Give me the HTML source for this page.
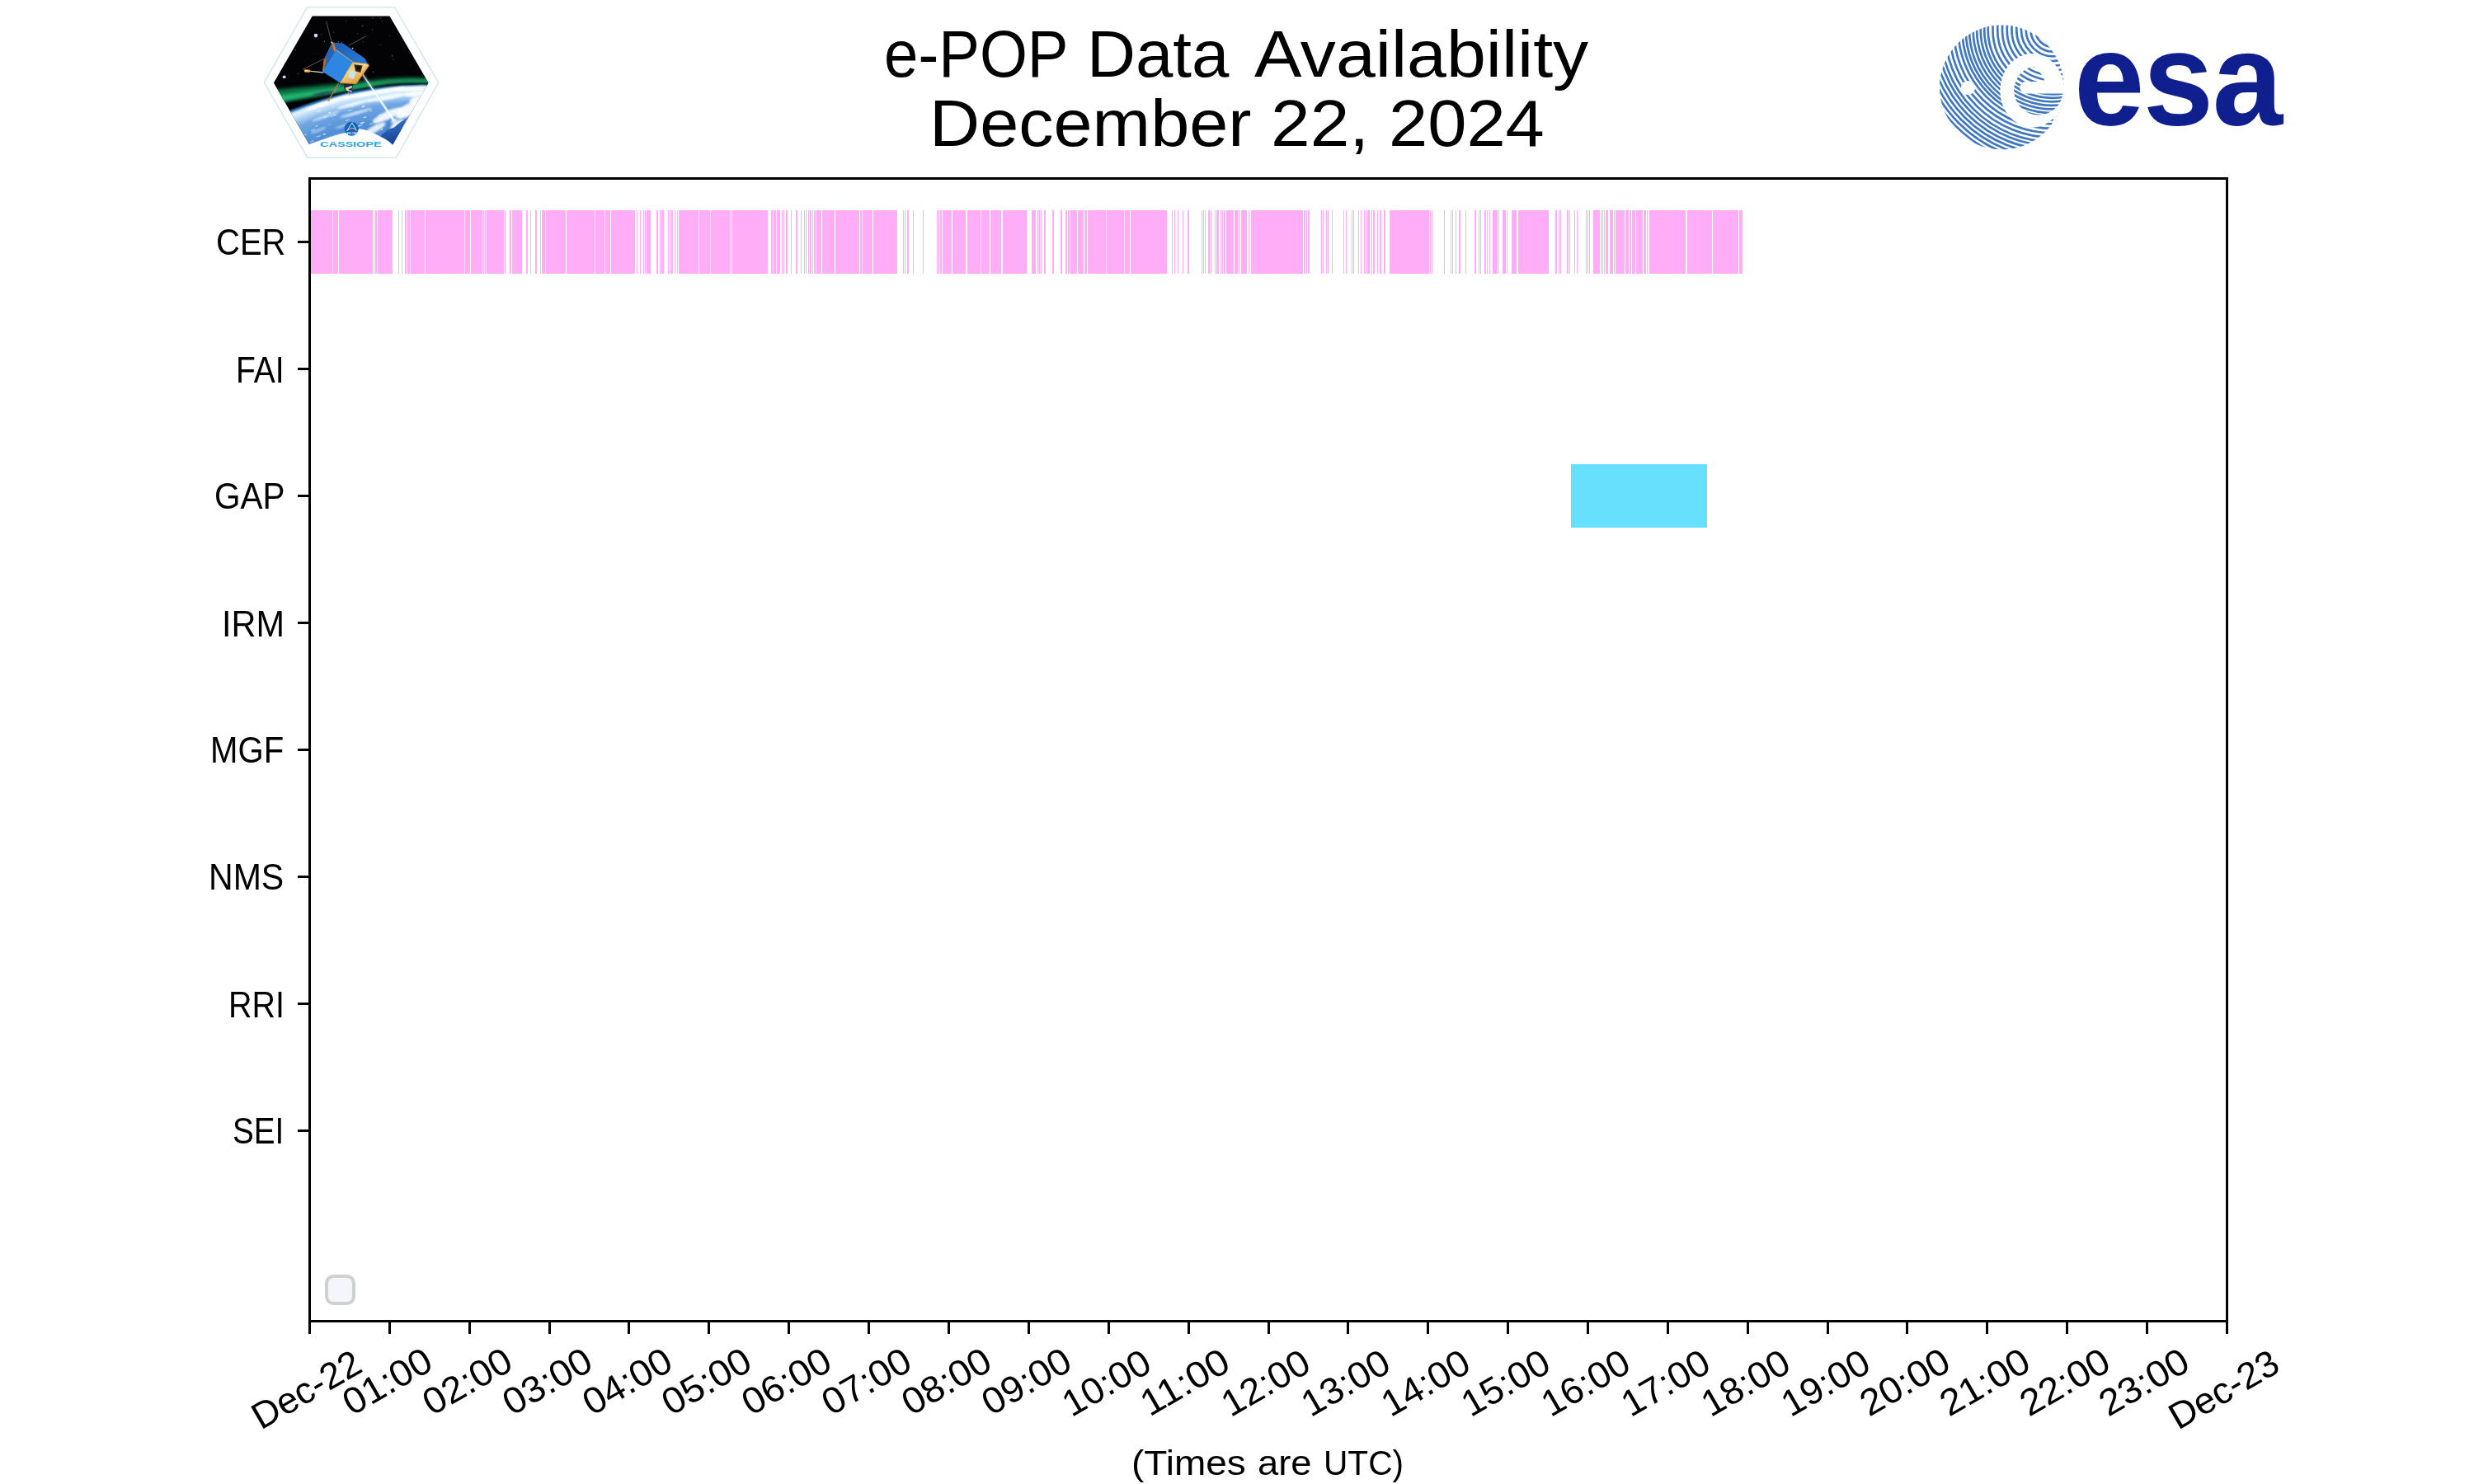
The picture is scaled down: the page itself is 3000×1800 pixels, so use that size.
<!DOCTYPE html>
<html lang="en">
<head>
<meta charset="utf-8">
<title>e-POP Data Availability - December 22, 2024</title>
<style>
html,body{margin:0;padding:0;background:#fff}
body{width:3000px;height:1800px;position:relative;overflow:hidden;font-family:"Liberation Sans",sans-serif;color:#000}
.k{position:absolute;background:#000}
.t{position:absolute;white-space:nowrap;line-height:1;transform-origin:0 0}
.r{position:absolute;white-space:nowrap;line-height:1;transform-origin:50% 50%}
svg{position:absolute;left:0;top:0;overflow:visible}
#legend{position:absolute;left:393.7px;top:1545.8px;width:29.2px;height:29.2px;border:4.2px solid #d0d0d0;border-radius:10.4px;background:#f5f6fb}

</style>
</head>
<body>
<svg id="bars" width="3000" height="1800" viewBox="0 0 3000 1800" shape-rendering="crispEdges">
<path fill="#ffadf6" d="M375 255h28v77h-28zM404 255h6v77h-6zM411 255h41v77h-41zM453 255h1v77h-1zM455 255h2v77h-2zM458 255h18v77h-18zM483 255h1v77h-1zM487 255h1v77h-1zM491 255h2v77h-2zM494 255h3v77h-3zM498 255h17v77h-17zM516 255h47v77h-47zM564 255h6v77h-6zM571 255h14v77h-14zM586 255h1v77h-1zM588 255h1v77h-1zM590 255h21v77h-21zM612 255h1v77h-1zM618 255h2v77h-2zM621 255h12v77h-12zM638 255h2v77h-2zM643 255h1v77h-1zM649 255h2v77h-2zM655 255h1v77h-1zM657 255h4v77h-4zM662 255h24v77h-24zM687 255h34v77h-34zM722 255h11v77h-11zM734 255h6v77h-6zM741 255h29v77h-29zM772 255h1v77h-1zM776 255h1v77h-1zM780 255h1v77h-1zM782 255h1v77h-1zM784 255h5v77h-5zM796 255h2v77h-2zM800 255h1v77h-1zM802 255h3v77h-3zM810 255h1v77h-1zM812 255h1v77h-1zM814 255h2v77h-2zM818 255h1v77h-1zM821 255h1v77h-1zM823 255h24v77h-24zM848 255h13v77h-13zM862 255h23v77h-23zM886 255h1v77h-1zM888 255h43v77h-43zM935 255h2v77h-2zM938 255h3v77h-3zM942 255h4v77h-4zM948 255h1v77h-1zM950 255h1v77h-1zM953 255h2v77h-2zM959 255h1v77h-1zM965 255h2v77h-2zM971 255h1v77h-1zM975 255h1v77h-1zM977 255h1v77h-1zM980 255h1v77h-1zM982 255h2v77h-2zM985 255h1v77h-1zM987 255h2v77h-2zM990 255h6v77h-6zM997 255h15v77h-15zM1013 255h29v77h-29zM1043 255h2v77h-2zM1046 255h12v77h-12zM1059 255h29v77h-29zM1095 255h1v77h-1zM1097 255h1v77h-1zM1100 255h2v77h-2zM1107 255h1v77h-1zM1119 255h1v77h-1zM1136 255h1v77h-1zM1138 255h1v77h-1zM1140 255h2v77h-2zM1143 255h11v77h-11zM1155 255h16v77h-16zM1173 255h16v77h-16zM1190 255h10v77h-10zM1201 255h13v77h-13zM1216 255h29v77h-29zM1251 255h5v77h-5zM1258 255h1v77h-1zM1260 255h1v77h-1zM1262 255h1v77h-1zM1266 255h2v77h-2zM1276 255h2v77h-2zM1286 255h2v77h-2zM1292 255h2v77h-2zM1295 255h2v77h-2zM1298 255h8v77h-8zM1307 255h7v77h-7zM1315 255h3v77h-3zM1319 255h22v77h-22zM1342 255h21v77h-21zM1364 255h6v77h-6zM1371 255h44v77h-44zM1421 255h1v77h-1zM1424 255h1v77h-1zM1428 255h1v77h-1zM1434 255h1v77h-1zM1440 255h2v77h-2zM1457 255h1v77h-1zM1459 255h1v77h-1zM1461 255h1v77h-1zM1465 255h2v77h-2zM1468 255h1v77h-1zM1473 255h1v77h-1zM1475 255h3v77h-3zM1480 255h1v77h-1zM1482 255h1v77h-1zM1484 255h2v77h-2zM1487 255h9v77h-9zM1497 255h4v77h-4zM1502 255h1v77h-1zM1505 255h7v77h-7zM1514 255h1v77h-1zM1517 255h63v77h-63zM1581 255h2v77h-2zM1584 255h1v77h-1zM1586 255h2v77h-2zM1602 255h1v77h-1zM1604 255h1v77h-1zM1608 255h1v77h-1zM1610 255h1v77h-1zM1615 255h1v77h-1zM1629 255h1v77h-1zM1632 255h1v77h-1zM1639 255h1v77h-1zM1641 255h1v77h-1zM1647 255h1v77h-1zM1650 255h1v77h-1zM1654 255h1v77h-1zM1656 255h1v77h-1zM1658 255h3v77h-3zM1663 255h1v77h-1zM1665 255h2v77h-2zM1670 255h1v77h-1zM1673 255h2v77h-2zM1678 255h2v77h-2zM1685 255h48v77h-48zM1734 255h1v77h-1zM1736 255h1v77h-1zM1751 255h1v77h-1zM1759 255h1v77h-1zM1761 255h1v77h-1zM1765 255h1v77h-1zM1769 255h2v77h-2zM1777 255h1v77h-1zM1788 255h2v77h-2zM1793 255h1v77h-1zM1795 255h1v77h-1zM1800 255h2v77h-2zM1803 255h1v77h-1zM1806 255h1v77h-1zM1810 255h6v77h-6zM1817 255h1v77h-1zM1822 255h4v77h-4zM1827 255h1v77h-1zM1833 255h6v77h-6zM1841 255h37v77h-37zM1886 255h2v77h-2zM1890 255h1v77h-1zM1892 255h1v77h-1zM1900 255h2v77h-2zM1903 255h1v77h-1zM1909 255h1v77h-1zM1912 255h1v77h-1zM1923 255h1v77h-1zM1925 255h1v77h-1zM1927 255h1v77h-1zM1932 255h8v77h-8zM1941 255h1v77h-1zM1943 255h1v77h-1zM1945 255h1v77h-1zM1947 255h3v77h-3zM1952 255h4v77h-4zM1957 255h1v77h-1zM1959 255h11v77h-11zM1971 255h4v77h-4zM1976 255h2v77h-2zM1979 255h4v77h-4zM1984 255h8v77h-8zM1993 255h3v77h-3zM1997 255h1v77h-1zM2000 255h44v77h-44zM2046 255h30v77h-30zM2077 255h31v77h-31zM2109 255h4v77h-4z"/>
<rect fill="#66e0fc" x="1905" y="563" width="165" height="77"/>
</svg>
<div id="legend"></div>
<div class="k" style="left:374px;top:215px;width:2328px;height:3px"></div>
<div class="k" style="left:374px;top:1601px;width:2328px;height:3px"></div>
<div class="k" style="left:374px;top:215px;width:3px;height:1389px"></div>
<div class="k" style="left:2699px;top:215px;width:3px;height:1389px"></div>
<div class="k" style="left:374px;top:1604px;width:3px;height:13.5px"></div>
<div class="k" style="left:471px;top:1604px;width:3px;height:13.5px"></div>
<div class="k" style="left:568px;top:1604px;width:3px;height:13.5px"></div>
<div class="k" style="left:665px;top:1604px;width:3px;height:13.5px"></div>
<div class="k" style="left:761px;top:1604px;width:3px;height:13.5px"></div>
<div class="k" style="left:858px;top:1604px;width:3px;height:13.5px"></div>
<div class="k" style="left:955px;top:1604px;width:3px;height:13.5px"></div>
<div class="k" style="left:1052px;top:1604px;width:3px;height:13.5px"></div>
<div class="k" style="left:1149px;top:1604px;width:3px;height:13.5px"></div>
<div class="k" style="left:1246px;top:1604px;width:3px;height:13.5px"></div>
<div class="k" style="left:1343px;top:1604px;width:3px;height:13.5px"></div>
<div class="k" style="left:1440px;top:1604px;width:3px;height:13.5px"></div>
<div class="k" style="left:1537px;top:1604px;width:3px;height:13.5px"></div>
<div class="k" style="left:1633px;top:1604px;width:3px;height:13.5px"></div>
<div class="k" style="left:1730px;top:1604px;width:3px;height:13.5px"></div>
<div class="k" style="left:1827px;top:1604px;width:3px;height:13.5px"></div>
<div class="k" style="left:1924px;top:1604px;width:3px;height:13.5px"></div>
<div class="k" style="left:2021px;top:1604px;width:3px;height:13.5px"></div>
<div class="k" style="left:2118px;top:1604px;width:3px;height:13.5px"></div>
<div class="k" style="left:2215px;top:1604px;width:3px;height:13.5px"></div>
<div class="k" style="left:2311px;top:1604px;width:3px;height:13.5px"></div>
<div class="k" style="left:2408px;top:1604px;width:3px;height:13.5px"></div>
<div class="k" style="left:2505px;top:1604px;width:3px;height:13.5px"></div>
<div class="k" style="left:2602px;top:1604px;width:3px;height:13.5px"></div>
<div class="k" style="left:2699px;top:1604px;width:3px;height:13.5px"></div>
<div class="k" style="left:360.5px;top:292px;width:14px;height:3px"></div>
<div class="k" style="left:360.5px;top:446px;width:14px;height:3px"></div>
<div class="k" style="left:360.5px;top:600px;width:14px;height:3px"></div>
<div class="k" style="left:360.5px;top:754px;width:14px;height:3px"></div>
<div class="k" style="left:360.5px;top:908px;width:14px;height:3px"></div>
<div class="k" style="left:360.5px;top:1062px;width:14px;height:3px"></div>
<div class="k" style="left:360.5px;top:1216px;width:14px;height:3px"></div>
<div class="k" style="left:360.5px;top:1370px;width:14px;height:3px"></div>
<div class="t" id="yCER" style="left:262.10px;top:271.59px;font-size:44.90px;transform:scale(0.8909,1.0000)">CER</div>
<div class="t" id="yFAI" style="left:286.21px;top:426.59px;font-size:44.90px;transform:scale(0.8687,1.0000)">FAI</div>
<div class="t" id="yGAP" style="left:260.07px;top:579.59px;font-size:44.90px;transform:scale(0.9026,1.0000)">GAP</div>
<div class="t" id="yIRM" style="left:269.05px;top:734.59px;font-size:44.90px;transform:scale(0.9229,1.0000)">IRM</div>
<div class="t" id="yMGF" style="left:255.13px;top:887.59px;font-size:44.90px;transform:scale(0.8938,1.0000)">MGF</div>
<div class="t" id="yNMS" style="left:253.07px;top:1041.59px;font-size:44.90px;transform:scale(0.9142,1.0000)">NMS</div>
<div class="t" id="yRRI" style="left:277.18px;top:1196.59px;font-size:44.90px;transform:scale(0.8790,1.0000)">RRI</div>
<div class="t" id="ySEI" style="left:282.16px;top:1349.59px;font-size:44.90px;transform:scale(0.8600,1.0000)">SEI</div>
<div id="xticklabels" style="position:absolute;left:0;top:1600px;width:3000px;height:170px;filter:grayscale(1)">
<div class="r" id="x0" style="left:372.00px;top:85.50px;font-size:44.90px;transform:translate(-50%,-50%) rotate(-30deg) scale(1.0000,1.0000)">Dec-22</div>
<div class="r" id="x1" style="left:470.00px;top:76.00px;font-size:44.90px;transform:translate(-50%,-50%) rotate(-30deg) scale(1.0367,1.0000)">01:00</div>
<div class="r" id="x2" style="left:567.00px;top:76.00px;font-size:44.90px;transform:translate(-50%,-50%) rotate(-30deg) scale(1.0367,1.0000)">02:00</div>
<div class="r" id="x3" style="left:664.00px;top:76.00px;font-size:44.90px;transform:translate(-50%,-50%) rotate(-30deg) scale(1.0367,1.0000)">03:00</div>
<div class="r" id="x4" style="left:761.00px;top:76.00px;font-size:44.90px;transform:translate(-50%,-50%) rotate(-30deg) scale(1.0367,1.0000)">04:00</div>
<div class="r" id="x5" style="left:857.00px;top:76.00px;font-size:44.90px;transform:translate(-50%,-50%) rotate(-30deg) scale(1.0367,1.0000)">05:00</div>
<div class="r" id="x6" style="left:954.00px;top:76.00px;font-size:44.90px;transform:translate(-50%,-50%) rotate(-30deg) scale(1.0367,1.0000)">06:00</div>
<div class="r" id="x7" style="left:1051.00px;top:76.00px;font-size:44.90px;transform:translate(-50%,-50%) rotate(-30deg) scale(1.0367,1.0000)">07:00</div>
<div class="r" id="x8" style="left:1148.00px;top:76.00px;font-size:44.90px;transform:translate(-50%,-50%) rotate(-30deg) scale(1.0367,1.0000)">08:00</div>
<div class="r" id="x9" style="left:1245.00px;top:76.00px;font-size:44.90px;transform:translate(-50%,-50%) rotate(-30deg) scale(1.0367,1.0000)">09:00</div>
<div class="r" id="x10" style="left:1341.50px;top:77.50px;font-size:44.90px;transform:translate(-50%,-50%) rotate(-30deg) scale(1.0278,1.0000)">10:00</div>
<div class="r" id="x11" style="left:1437.00px;top:77.00px;font-size:44.90px;transform:translate(-50%,-50%) rotate(-30deg) scale(1.0673,1.0000)">11:00</div>
<div class="r" id="x12" style="left:1534.50px;top:77.50px;font-size:44.90px;transform:translate(-50%,-50%) rotate(-30deg) scale(1.0278,1.0000)">12:00</div>
<div class="r" id="x13" style="left:1631.50px;top:77.50px;font-size:44.90px;transform:translate(-50%,-50%) rotate(-30deg) scale(1.0278,1.0000)">13:00</div>
<div class="r" id="x14" style="left:1728.50px;top:77.50px;font-size:44.90px;transform:translate(-50%,-50%) rotate(-30deg) scale(1.0278,1.0000)">14:00</div>
<div class="r" id="x15" style="left:1825.50px;top:77.50px;font-size:44.90px;transform:translate(-50%,-50%) rotate(-30deg) scale(1.0278,1.0000)">15:00</div>
<div class="r" id="x16" style="left:1922.50px;top:77.50px;font-size:44.90px;transform:translate(-50%,-50%) rotate(-30deg) scale(1.0278,1.0000)">16:00</div>
<div class="r" id="x17" style="left:2019.50px;top:77.50px;font-size:44.90px;transform:translate(-50%,-50%) rotate(-30deg) scale(1.0278,1.0000)">17:00</div>
<div class="r" id="x18" style="left:2116.50px;top:77.50px;font-size:44.90px;transform:translate(-50%,-50%) rotate(-30deg) scale(1.0278,1.0000)">18:00</div>
<div class="r" id="x19" style="left:2213.50px;top:77.50px;font-size:44.90px;transform:translate(-50%,-50%) rotate(-30deg) scale(1.0278,1.0000)">19:00</div>
<div class="r" id="x20" style="left:2310.00px;top:77.00px;font-size:44.90px;transform:translate(-50%,-50%) rotate(-30deg) scale(1.0459,1.0000)">20:00</div>
<div class="r" id="x21" style="left:2407.00px;top:77.00px;font-size:44.90px;transform:translate(-50%,-50%) rotate(-30deg) scale(1.0459,1.0000)">21:00</div>
<div class="r" id="x22" style="left:2504.00px;top:77.00px;font-size:44.90px;transform:translate(-50%,-50%) rotate(-30deg) scale(1.0459,1.0000)">22:00</div>
<div class="r" id="x23" style="left:2600.00px;top:77.00px;font-size:44.90px;transform:translate(-50%,-50%) rotate(-30deg) scale(1.0459,1.0000)">23:00</div>
<div class="r" id="x24" style="left:2697.00px;top:86.00px;font-size:44.90px;transform:translate(-50%,-50%) rotate(-30deg) scale(1.0072,1.0000)">Dec-23</div>
</div>
<div class="t" id="xlabel_0" style="left:1371.91px;top:1753.71px;font-size:41.71px;transform:scale(1.1025,1.0000)">(Times</div>
<div class="t" id="xlabel_1" style="left:1524.97px;top:1753.71px;font-size:41.71px;transform:scale(1.0880,1.0000)">are</div>
<div class="t" id="xlabel_2" style="left:1605.27px;top:1753.71px;font-size:41.71px;transform:scale(0.9746,1.0000)">UTC)</div>
<div class="t" id="title1_0" style="left:1072.41px;top:25.52px;font-size:79.56px;transform:scale(0.9363,1.0000)">e-POP</div>
<div class="t" id="title1_1" style="left:1318.12px;top:25.52px;font-size:79.56px;transform:scale(1.0260,1.0000)">Data</div>
<div class="t" id="title1_2" style="left:1520.96px;top:25.52px;font-size:79.56px;transform:scale(1.0823,1.0000)">Availability</div>
<div class="t" id="title2_0" style="left:1127.02px;top:109.43px;font-size:80.10px;transform:scale(1.0569,1.0000)">December</div>
<div class="t" id="title2_1" style="left:1540.96px;top:109.43px;font-size:80.10px;transform:scale(1.0697,1.0000)">22,</div>
<div class="t" id="title2_2" style="left:1684.00px;top:109.43px;font-size:80.10px;transform:scale(1.0597,1.0000)">2024</div>
<div class="t" id="esatxt" style="left:2514.76px;top:14.77px;font-size:160.73px;font-weight:700;color:#0f1f8d;letter-spacing:-0.01em;transform:scale(0.9553,1.0000)">esa</div>
<svg id="cassiope" width="3000" height="1800" viewBox="0 0 3000 1800">
<defs>
<clipPath id="hexclip"><polygon points="331.9,100.4 378.7,19.4 472.5,19.4 519.5,100.4 475.3,177 376.1,177"/></clipPath>
<filter id="b1" x="-20%" y="-20%" width="140%" height="140%"><feGaussianBlur stdDeviation="1"/></filter>
<filter id="b2" x="-20%" y="-20%" width="140%" height="140%"><feGaussianBlur stdDeviation="2.2"/></filter>
<filter id="b4" x="-20%" y="-20%" width="140%" height="140%"><feGaussianBlur stdDeviation="4.5"/></filter>
<filter id="b05" x="-20%" y="-20%" width="140%" height="140%"><feGaussianBlur stdDeviation="0.45"/></filter>
<radialGradient id="earthg" gradientUnits="userSpaceOnUse" cx="514" cy="535.5" r="430.5">
<stop offset="0.84" stop-color="#4a84d0"/><stop offset="0.90" stop-color="#4f8cd6"/><stop offset="0.955" stop-color="#6fa6e2"/><stop offset="0.978" stop-color="#b9dbf6"/><stop offset="0.992" stop-color="#e6f4ff"/><stop offset="1" stop-color="#86c0f2"/>
</radialGradient>
<linearGradient id="topf" x1="0" y1="0" x2="1" y2="1"><stop offset="0" stop-color="#1a5fb4"/><stop offset="1" stop-color="#2a7ad6"/></linearGradient>
<linearGradient id="goldf" x1="0" y1="0" x2="0.6" y2="1"><stop offset="0" stop-color="#d89a3a"/><stop offset="0.45" stop-color="#f3d58a"/><stop offset="1" stop-color="#e0a040"/></linearGradient>
<linearGradient id="oceang" x1="0" y1="0" x2="0.3" y2="1"><stop offset="0" stop-color="#3f7fcd"/><stop offset="1" stop-color="#143f98"/></linearGradient>
<linearGradient id="casst" x1="0" y1="0" x2="0" y2="1"><stop offset="0" stop-color="#35b6ea"/><stop offset="1" stop-color="#1590d6"/></linearGradient>
</defs>
<polygon points="320.3,100.1 372.4,8.9 478.6,8.9 531.7,100.1 480.4,191.4 372.9,191.4" fill="#fff" stroke="#cbe6ea" stroke-width="1.3"/>
<g clip-path="url(#hexclip)">
<rect x="325" y="15" width="200" height="175" fill="#030305"/>
<circle cx="383.0" cy="43.1" r="2.30" fill="#d6d4ff" opacity="1.00" filter="url(#b05)"/>
<circle cx="344.7" cy="93.3" r="1.90" fill="#d8d6ff" opacity="1.00" filter="url(#b05)"/>
<circle cx="439.9" cy="31.2" r="0.72" fill="#fff" opacity="0.42"/>
<circle cx="452.0" cy="21.7" r="0.64" fill="#fff" opacity="0.36"/>
<circle cx="461.3" cy="22.1" r="0.64" fill="#fff" opacity="0.36"/>
<circle cx="419.7" cy="25.4" r="0.56" fill="#fff" opacity="0.30"/>
<circle cx="430.2" cy="23.3" r="0.56" fill="#fff" opacity="0.30"/>
<circle cx="404.7" cy="39.1" r="0.64" fill="#fff" opacity="0.36"/>
<circle cx="433.8" cy="40.6" r="0.64" fill="#fff" opacity="0.36"/>
<circle cx="451.6" cy="35.9" r="0.56" fill="#fff" opacity="0.36"/>
<circle cx="393.4" cy="50.4" r="0.72" fill="#fff" opacity="0.42"/>
<circle cx="358.2" cy="60.8" r="0.72" fill="#fff" opacity="0.42"/>
<circle cx="440.3" cy="50.8" r="0.64" fill="#fff" opacity="0.36"/>
<circle cx="461.3" cy="54.1" r="0.56" fill="#fff" opacity="0.30"/>
<circle cx="475.5" cy="67.8" r="0.72" fill="#fff" opacity="0.42"/>
<circle cx="476.7" cy="71.9" r="0.56" fill="#fff" opacity="0.36"/>
<circle cx="452.4" cy="87.2" r="0.72" fill="#fff" opacity="0.42"/>
<circle cx="361.4" cy="89.3" r="0.64" fill="#fff" opacity="0.36"/>
<circle cx="389.3" cy="41.5" r="0.56" fill="#fff" opacity="0.30"/>
<circle cx="472.6" cy="43.2" r="0.56" fill="#fff" opacity="0.30"/>
<circle cx="463.7" cy="25.4" r="0.56" fill="#fff" opacity="0.30"/>
<circle cx="396.7" cy="33.2" r="0.41" fill="#fff" opacity="0.10"/>
<circle cx="433.8" cy="49.1" r="0.29" fill="#fff" opacity="0.17"/>
<circle cx="346.6" cy="54.1" r="0.29" fill="#fff" opacity="0.10"/>
<circle cx="414.3" cy="83.2" r="0.30" fill="#fff" opacity="0.12"/>
<circle cx="449.8" cy="92.1" r="0.40" fill="#fff" opacity="0.15"/>
<circle cx="510.8" cy="25.4" r="0.45" fill="#fff" opacity="0.13"/>
<circle cx="365.2" cy="30.7" r="0.34" fill="#fff" opacity="0.21"/>
<circle cx="371.6" cy="65.0" r="0.41" fill="#fff" opacity="0.15"/>
<circle cx="435.9" cy="26.6" r="0.29" fill="#fff" opacity="0.12"/>
<circle cx="459.1" cy="53.6" r="0.34" fill="#fff" opacity="0.18"/>
<circle cx="419.3" cy="44.2" r="0.44" fill="#fff" opacity="0.19"/>
<circle cx="382.7" cy="64.5" r="0.39" fill="#fff" opacity="0.22"/>
<circle cx="467.7" cy="43.3" r="0.48" fill="#fff" opacity="0.11"/>
<circle cx="413.2" cy="78.0" r="0.31" fill="#fff" opacity="0.16"/>
<circle cx="346.9" cy="71.4" r="0.43" fill="#fff" opacity="0.18"/>
<circle cx="493.2" cy="45.2" r="0.42" fill="#fff" opacity="0.18"/>
<circle cx="441.5" cy="55.8" r="0.45" fill="#fff" opacity="0.23"/>
<circle cx="423.0" cy="71.1" r="0.29" fill="#fff" opacity="0.20"/>
<circle cx="453.2" cy="95.5" r="0.44" fill="#fff" opacity="0.13"/>
<circle cx="407.5" cy="71.5" r="0.28" fill="#fff" opacity="0.16"/>
<circle cx="369.4" cy="30.7" r="0.29" fill="#fff" opacity="0.21"/>
<circle cx="362.6" cy="40.3" r="0.36" fill="#fff" opacity="0.22"/>
<circle cx="354.1" cy="55.2" r="0.39" fill="#fff" opacity="0.22"/>
<circle cx="483.4" cy="85.9" r="0.34" fill="#fff" opacity="0.15"/>
<circle cx="402.8" cy="87.4" r="0.47" fill="#fff" opacity="0.11"/>
<circle cx="370.8" cy="39.2" r="0.33" fill="#fff" opacity="0.16"/>
<circle cx="443.1" cy="41.4" r="0.28" fill="#fff" opacity="0.15"/>
<circle cx="404.6" cy="63.9" r="0.47" fill="#fff" opacity="0.19"/>
<circle cx="430.2" cy="67.7" r="0.42" fill="#fff" opacity="0.10"/>
<circle cx="497.4" cy="79.7" r="0.45" fill="#fff" opacity="0.21"/>
<circle cx="408.7" cy="51.5" r="0.30" fill="#fff" opacity="0.19"/>
<circle cx="350.9" cy="27.0" r="0.32" fill="#fff" opacity="0.11"/>
<circle cx="399.5" cy="25.9" r="0.28" fill="#fff" opacity="0.11"/>
<circle cx="357.8" cy="48.9" r="0.29" fill="#fff" opacity="0.22"/>
<polygon points="326.0,109.5 332.0,108.9 338.0,108.3 344.0,107.8 350.0,107.2 356.0,106.6 362.0,106.0 368.0,105.5 374.0,104.9 380.0,104.4 386.0,103.8 392.0,103.3 398.0,102.8 404.0,102.3 410.0,101.8 416.0,101.3 422.0,100.7 428.0,100.0 434.0,99.3 440.0,98.6 446.0,98.0 452.0,97.3 458.0,96.6 464.0,95.9 470.0,95.2 476.0,94.9 482.0,94.7 488.0,94.5 494.0,94.2 500.0,94.3 506.0,94.3 512.0,94.4 518.0,94.4 524.0,94.5 524.0,101.3 518.0,101.2 512.0,101.1 506.0,100.9 500.0,100.8 494.0,100.7 488.0,101.0 482.0,101.3 476.0,101.6 470.0,102.0 464.0,103.0 458.0,104.1 452.0,105.1 446.0,106.1 440.0,107.2 434.0,108.2 428.0,109.2 422.0,110.2 416.0,111.2 410.0,112.2 404.0,113.2 398.0,114.2 392.0,115.2 386.0,116.2 380.0,117.2 374.0,118.2 368.0,119.3 362.0,120.3 356.0,121.3 350.0,122.4 344.0,123.4 338.0,124.4 332.0,125.5 326.0,126.5" fill="#0e7f4c" opacity=".92" filter="url(#b2)"/>
<polygon points="326.0,117.8 332.0,116.9 338.0,116.1 344.0,115.3 350.0,114.5 356.0,113.7 362.0,112.9 368.0,112.1 374.0,111.3 380.0,110.5 386.0,109.8 392.0,109.0 398.0,108.3 404.0,107.5 410.0,106.8 416.0,106.0 422.0,105.2 428.0,104.4 434.0,103.5 440.0,102.6 446.0,101.8 452.0,100.9 458.0,100.1 464.0,99.2 470.0,98.4 476.0,98.0 482.0,97.7 488.0,97.5 494.0,97.2 500.0,97.3 506.0,97.4 512.0,97.5 518.0,97.6 524.0,97.7 524.0,100.6 518.0,100.5 512.0,100.4 506.0,100.2 500.0,100.1 494.0,100.0 488.0,100.3 482.0,100.6 476.0,100.9 470.0,101.3 464.0,102.3 458.0,103.4 452.0,104.4 446.0,105.4 440.0,106.5 434.0,107.5 428.0,108.5 422.0,109.5 416.0,110.5 410.0,111.5 404.0,112.5 398.0,113.5 392.0,114.5 386.0,115.5 380.0,116.5 374.0,117.5 368.0,118.6 362.0,119.6 356.0,120.6 350.0,121.7 344.0,122.7 338.0,123.7 332.0,124.8 326.0,125.8" fill="#2fd485" opacity=".75" filter="url(#b2)"/>
<ellipse cx="392" cy="113.2" rx="13" ry="1.5" transform="rotate(-10 392 113.2)" fill="#2a1c50" opacity=".7" filter="url(#b1)"/>
<circle cx="514" cy="535.5" r="433.2" fill="none" stroke="#02060c" stroke-width="2.4" opacity="0.8" filter="url(#b1)"/>
<circle cx="514" cy="535.5" r="431" fill="none" stroke="#4aa0f0" stroke-width="3" filter="url(#b1)"/>
<circle cx="514" cy="535.5" r="430.5" fill="url(#earthg)"/>
<ellipse cx="398" cy="124" rx="30" ry="2.4" transform="rotate(-19 398 124)" fill="#fff" opacity="0.9" filter="url(#b1)"/>
<ellipse cx="452" cy="112.5" rx="40" ry="2.6" transform="rotate(-10 452 112.5)" fill="#fff" opacity="0.95" filter="url(#b1)"/>
<ellipse cx="500" cy="107" rx="26" ry="2.6" transform="rotate(-3 500 107)" fill="#fff" opacity="0.95" filter="url(#b1)"/>
<ellipse cx="430" cy="126" rx="22" ry="2.2" transform="rotate(-15 430 126)" fill="#fff" opacity="0.8" filter="url(#b1)"/>
<ellipse cx="470" cy="118" rx="26" ry="3" transform="rotate(-10 470 118)" fill="#fff" opacity="0.85" filter="url(#b1)"/>
<ellipse cx="505" cy="114" rx="14" ry="3.5" transform="rotate(-5 505 114)" fill="#fff" opacity="0.9" filter="url(#b1)"/>
<ellipse cx="395" cy="141" rx="18" ry="1.8" transform="rotate(-20 395 141)" fill="#fff" opacity="0.55" filter="url(#b1)"/>
<ellipse cx="432" cy="137" rx="20" ry="2" transform="rotate(-16 432 137)" fill="#fff" opacity="0.6" filter="url(#b1)"/>
<ellipse cx="470" cy="140" rx="20" ry="5" transform="rotate(-25 470 140)" fill="#fff" opacity="0.9" filter="url(#b1)"/>
<ellipse cx="494" cy="134" rx="16" ry="7" transform="rotate(-30 494 134)" fill="#fff" opacity="0.95" filter="url(#b1)"/>
<ellipse cx="455" cy="156" rx="14" ry="4" transform="rotate(-28 455 156)" fill="#fff" opacity="0.85" filter="url(#b1)"/>
<ellipse cx="482" cy="152" rx="10" ry="5" transform="rotate(-35 482 152)" fill="#fff" opacity="0.9" filter="url(#b1)"/>
<ellipse cx="506" cy="122" rx="10" ry="5" transform="rotate(-12 506 122)" fill="#fff" opacity="0.9" filter="url(#b1)"/>
<ellipse cx="418" cy="152" rx="12" ry="1.6" transform="rotate(-18 418 152)" fill="#fff" opacity="0.45" filter="url(#b1)"/>
<ellipse cx="386" cy="158" rx="10" ry="1.6" transform="rotate(-20 386 158)" fill="#fff" opacity="0.45" filter="url(#b1)"/>
<ellipse cx="405" cy="166" rx="12" ry="1.8" transform="rotate(-18 405 166)" fill="#fff" opacity="0.45" filter="url(#b1)"/>
<ellipse cx="449.8" cy="134.5" rx="1.6" ry="0.6" transform="rotate(-18 449.8 134.5)" fill="#fff" opacity="0.51"/>
<ellipse cx="386.0" cy="165.4" rx="3.2" ry="0.6" transform="rotate(-18 386.0 165.4)" fill="#fff" opacity="0.57"/>
<ellipse cx="381.2" cy="132.5" rx="1.8" ry="0.5" transform="rotate(-18 381.2 132.5)" fill="#fff" opacity="0.72"/>
<ellipse cx="391.0" cy="129.0" rx="3.1" ry="0.7" transform="rotate(-18 391.0 129.0)" fill="#fff" opacity="0.42"/>
<ellipse cx="440.6" cy="129.2" rx="2.2" ry="0.9" transform="rotate(-18 440.6 129.2)" fill="#fff" opacity="0.74"/>
<ellipse cx="460.5" cy="139.5" rx="1.8" ry="0.5" transform="rotate(-18 460.5 139.5)" fill="#fff" opacity="0.70"/>
<ellipse cx="439.2" cy="162.3" rx="1.7" ry="0.5" transform="rotate(-18 439.2 162.3)" fill="#fff" opacity="0.72"/>
<ellipse cx="498.0" cy="165.5" rx="2.8" ry="0.8" transform="rotate(-18 498.0 165.5)" fill="#fff" opacity="0.68"/>
<ellipse cx="399.5" cy="150.8" rx="1.8" ry="0.4" transform="rotate(-18 399.5 150.8)" fill="#fff" opacity="0.36"/>
<ellipse cx="406.3" cy="139.4" rx="2.5" ry="0.9" transform="rotate(-18 406.3 139.4)" fill="#fff" opacity="0.55"/>
<ellipse cx="491.8" cy="171.5" rx="3.1" ry="0.6" transform="rotate(-18 491.8 171.5)" fill="#fff" opacity="0.45"/>
<ellipse cx="399.5" cy="136.7" rx="1.4" ry="0.7" transform="rotate(-18 399.5 136.7)" fill="#fff" opacity="0.76"/>
<ellipse cx="479.3" cy="149.1" rx="2.4" ry="0.8" transform="rotate(-18 479.3 149.1)" fill="#fff" opacity="0.39"/>
<ellipse cx="455.9" cy="168.0" rx="2.7" ry="0.8" transform="rotate(-18 455.9 168.0)" fill="#fff" opacity="0.57"/>
<ellipse cx="393.2" cy="162.7" rx="1.7" ry="0.8" transform="rotate(-18 393.2 162.7)" fill="#fff" opacity="0.79"/>
<ellipse cx="421.5" cy="145.7" rx="3.1" ry="0.8" transform="rotate(-18 421.5 145.7)" fill="#fff" opacity="0.43"/>
<ellipse cx="386.5" cy="134.7" rx="3.0" ry="0.8" transform="rotate(-18 386.5 134.7)" fill="#fff" opacity="0.42"/>
<ellipse cx="477.4" cy="171.1" rx="2.4" ry="0.6" transform="rotate(-18 477.4 171.1)" fill="#fff" opacity="0.60"/>
<ellipse cx="387.0" cy="128.6" rx="3.1" ry="0.7" transform="rotate(-18 387.0 128.6)" fill="#fff" opacity="0.59"/>
<ellipse cx="491.4" cy="147.1" rx="2.9" ry="0.8" transform="rotate(-18 491.4 147.1)" fill="#fff" opacity="0.44"/>
<ellipse cx="402.7" cy="140.9" rx="1.5" ry="0.7" transform="rotate(-18 402.7 140.9)" fill="#fff" opacity="0.47"/>
<ellipse cx="424.5" cy="133.8" rx="3.0" ry="0.6" transform="rotate(-18 424.5 133.8)" fill="#fff" opacity="0.56"/>
<ellipse cx="445.8" cy="167.8" rx="1.9" ry="0.9" transform="rotate(-18 445.8 167.8)" fill="#fff" opacity="0.58"/>
<ellipse cx="439.1" cy="151.0" rx="1.0" ry="0.6" transform="rotate(-18 439.1 151.0)" fill="#fff" opacity="0.43"/>
<ellipse cx="370.5" cy="163.2" rx="1.4" ry="0.6" transform="rotate(-18 370.5 163.2)" fill="#fff" opacity="0.68"/>
<ellipse cx="442.3" cy="142.3" rx="2.1" ry="0.7" transform="rotate(-18 442.3 142.3)" fill="#fff" opacity="0.70"/>
<ellipse cx="383.8" cy="152.7" rx="1.5" ry="0.5" transform="rotate(-18 383.8 152.7)" fill="#fff" opacity="0.70"/>
<ellipse cx="436.0" cy="152.7" rx="2.7" ry="0.9" transform="rotate(-18 436.0 152.7)" fill="#fff" opacity="0.55"/>
<ellipse cx="449.6" cy="150.2" rx="2.1" ry="0.7" transform="rotate(-18 449.6 150.2)" fill="#fff" opacity="0.55"/>
<ellipse cx="439.3" cy="149.0" rx="3.1" ry="0.7" transform="rotate(-18 439.3 149.0)" fill="#fff" opacity="0.74"/>
<ellipse cx="492.5" cy="139.4" rx="2.2" ry="0.9" transform="rotate(-18 492.5 139.4)" fill="#fff" opacity="0.73"/>
<ellipse cx="387.8" cy="133.4" rx="2.0" ry="0.4" transform="rotate(-18 387.8 133.4)" fill="#fff" opacity="0.46"/>
<ellipse cx="379.5" cy="157.5" rx="2.7" ry="0.8" transform="rotate(-18 379.5 157.5)" fill="#fff" opacity="0.42"/>
<ellipse cx="463.1" cy="157.1" rx="1.3" ry="0.8" transform="rotate(-18 463.1 157.1)" fill="#fff" opacity="0.79"/>
<ellipse cx="398.5" cy="169.9" rx="1.9" ry="0.6" transform="rotate(-18 398.5 169.9)" fill="#fff" opacity="0.80"/>
<ellipse cx="478.2" cy="135.1" rx="1.9" ry="0.7" transform="rotate(-18 478.2 135.1)" fill="#fff" opacity="0.50"/>
<ellipse cx="395.4" cy="142.0" rx="2.6" ry="0.4" transform="rotate(-18 395.4 142.0)" fill="#fff" opacity="0.60"/>
<ellipse cx="427.3" cy="128.8" rx="1.7" ry="0.7" transform="rotate(-18 427.3 128.8)" fill="#fff" opacity="0.58"/>
<ellipse cx="378.4" cy="171.3" rx="2.7" ry="0.9" transform="rotate(-18 378.4 171.3)" fill="#fff" opacity="0.40"/>
<ellipse cx="404.5" cy="129.7" rx="2.7" ry="0.5" transform="rotate(-18 404.5 129.7)" fill="#fff" opacity="0.41"/>
<polygon points="462.5,163.5 470,157.5 478,154.5 485.5,148 493.8,143.6 476.3,176 460,176" fill="url(#oceang)"/>
<line x1="437.9" y1="87.6" x2="477.5" y2="146" stroke="#cfe8ff" stroke-width="3.2" opacity=".45" filter="url(#b1)"/>
<polygon points="437.6,87.8 438.3,87.4 478.6,145.4 476.6,146.7" fill="#fff"/>
<ellipse cx="477.8" cy="146.6" rx="4" ry="2.2" transform="rotate(-30 477.8 146.6)" fill="#fff" opacity=".9" filter="url(#b1)"/>
<g stroke-linecap="round" fill="none">
<line x1="402.3" y1="52" x2="395.8" y2="26.2" stroke="#6e6a60" stroke-width=".8"/>
<line x1="423.3" y1="54.9" x2="443.5" y2="44" stroke="#6e6a60" stroke-width=".8"/>
<line x1="392.6" y1="71.5" x2="367.5" y2="84" stroke="#7a6c58" stroke-width=".8"/>
<line x1="391.8" y1="88" x2="375" y2="86.2" stroke="#c9c2b4" stroke-width="1.3"/>
<line x1="410.4" y1="101.4" x2="398.6" y2="121.4" stroke="#b07a4c" stroke-width="1.2"/>
<line x1="413" y1="101.5" x2="405.5" y2="113" stroke="#8a8f98" stroke-width=".8"/>
<line x1="420" y1="106" x2="423.6" y2="115.5" stroke="#a89a78" stroke-width=".9"/>
</g>
<rect x="368.8" y="84.4" width="7.2" height="3.3" rx="1.2" transform="rotate(4 372 86)" fill="#f0a020"/><rect x="370" y="85.1" width="3.6" height="1.7" rx=".8" transform="rotate(4 372 86)" fill="#ffe08a"/>
<circle cx="398.4" cy="121.8" r="1.4" fill="#e8922a"/>
<polygon points="416.5,101.5 428.5,102 427,108 421,111.5 417.5,108" fill="#23262c"/>
<polygon points="418.5,106.5 426.5,104 427.5,106 420,110" fill="#c9ced6"/><polygon points="421,108.5 427,110.5 426.6,111.6 420.8,110" fill="#e6e9ee"/>
<polygon points="402.3,52.1 407.5,60.5 391,86.8 392.6,72.3" fill="#2a62b4"/>
<polygon points="402.1,52 405.6,51.8 407.8,60.3 405.2,63.5" fill="#d9761e"/>
<polygon points="392.6,73 395.6,70 393.3,84.5 391.1,86.5" fill="#c8661a"/>
<polygon points="404.7,51.6 416,52.5 442.3,70.7 446,77.5 427.8,75.1 407.5,60.5" fill="url(#topf)"/>
<polygon points="407.53,60.55 427.75,75.11 412.39,100.58 390.95,86.83" fill="#3590ea"/>
<line x1="408.88" y1="61.52" x2="392.38" y2="87.75" stroke="#1f6fcc" stroke-width=".55"/>
<line x1="410.23" y1="62.49" x2="393.81" y2="88.66" stroke="#1f6fcc" stroke-width=".55"/>
<line x1="411.57" y1="63.46" x2="395.24" y2="89.58" stroke="#1f6fcc" stroke-width=".55"/>
<line x1="412.92" y1="64.43" x2="396.67" y2="90.50" stroke="#1f6fcc" stroke-width=".55"/>
<line x1="414.27" y1="65.40" x2="398.10" y2="91.41" stroke="#1f6fcc" stroke-width=".55"/>
<line x1="415.62" y1="66.37" x2="399.53" y2="92.33" stroke="#1f6fcc" stroke-width=".55"/>
<line x1="416.97" y1="67.34" x2="400.96" y2="93.25" stroke="#1f6fcc" stroke-width=".55"/>
<line x1="418.31" y1="68.32" x2="402.38" y2="94.16" stroke="#1f6fcc" stroke-width=".55"/>
<line x1="419.66" y1="69.29" x2="403.81" y2="95.08" stroke="#1f6fcc" stroke-width=".55"/>
<line x1="421.01" y1="70.26" x2="405.24" y2="96.00" stroke="#1f6fcc" stroke-width=".55"/>
<line x1="422.36" y1="71.23" x2="406.67" y2="96.91" stroke="#1f6fcc" stroke-width=".55"/>
<line x1="423.71" y1="72.20" x2="408.10" y2="97.83" stroke="#1f6fcc" stroke-width=".55"/>
<line x1="425.05" y1="73.17" x2="409.53" y2="98.75" stroke="#1f6fcc" stroke-width=".55"/>
<line x1="426.40" y1="74.14" x2="410.96" y2="99.66" stroke="#1f6fcc" stroke-width=".55"/>
<polyline points="407.5,60.5 427.8,75.1" fill="none" stroke="#f0b46a" stroke-width=".9"/>
<polygon points="427.75,75.11 445.95,77.53 447.2,79.6 431.8,101.4 412.39,100.58" fill="url(#goldf)"/>
<polygon points="429.5,78.2 439.5,79.6 437.2,88 431,86.2" fill="#2e2416"/>
<polygon points="433,80 437.5,80.8 436.4,84.5 432.6,83.4" fill="#0f0c08"/>
<polygon points="425,85.5 431.6,87.4 428.6,95.8 422.2,93.6" fill="#c4e6f4"/>
<polyline points="445.95,77.5 447.2,79.6 431.8,101.4" fill="none" stroke="#e8862a" stroke-width="1.3"/>
<polyline points="412.4,100.6 431.8,101.4" fill="none" stroke="#d98a30" stroke-width="1"/>
<circle cx="402.4" cy="51.6" r="1" fill="#f4e6d8"/><circle cx="427.6" cy="58.6" r=".9" fill="#dfe6ee"/>
<line x1="410.2" y1="51.6" x2="410.6" y2="50" stroke="#aaa" stroke-width=".6"/><line x1="414.4" y1="52" x2="414.9" y2="50.5" stroke="#aaa" stroke-width=".6"/>
</g>
<path d="M372,176.2 L374.9,175 C392,168.6 408,163.6 418,161.2 C428,158.2 432,156.4 436,156.4 C444,156.6 455,162 466,168 C470.6,170.7 474,173.6 476.3,175.7 L480,176.4 L480,186 L372,186 Z" fill="#fff"/>
<circle cx="426.2" cy="156.1" r="8.6" fill="#1765b6"/>
<path d="M420.9,158.6 C423,155.6 424.6,151.6 426.9,149.6 C429.4,152 430.6,156 432.2,158.4" fill="none" stroke="#fff" stroke-width=".9" stroke-linecap="round"/>
<path d="M422,157.8 C424.5,155.2 428.6,154.6 431.4,157.2" fill="none" stroke="#fff" stroke-width=".6"/>
<path d="M426.1,149.2 l1.4,-1 l-.3,1.7 z" fill="#fff"/>
<circle cx="426.7" cy="157.6" r="1" fill="#e8242c"/>
<text x="426.3" y="162.6" font-family="Liberation Sans, sans-serif" font-weight="700" font-size="2.7" text-anchor="middle" fill="#fff">ASC CSA</text>
<text transform="translate(388.1 178.3) scale(1.62 1)" font-family="Liberation Sans, sans-serif" font-weight="700" font-size="8.9" fill="url(#casst)">CASSIOPE</text>
</svg>
<svg id="esa" width="3000" height="1800" viewBox="0 0 3000 1800">
<defs><clipPath id="esaclip"><circle cx="2427.4" cy="105.9" r="75.5"/></clipPath></defs>
<g clip-path="url(#esaclip)">
<g fill="none" stroke="#3f78be" stroke-width="2.7">
<circle cx="2489" cy="36" r="20.80"/>
<circle cx="2489" cy="36" r="26.55"/>
<circle cx="2489" cy="36" r="32.30"/>
<circle cx="2489" cy="36" r="38.05"/>
<circle cx="2489" cy="36" r="43.80"/>
<circle cx="2489" cy="36" r="49.55"/>
<circle cx="2489" cy="36" r="55.30"/>
<circle cx="2489" cy="36" r="61.05"/>
<circle cx="2489" cy="36" r="66.80"/>
<circle cx="2489" cy="36" r="72.55"/>
<circle cx="2489" cy="36" r="78.30"/>
<circle cx="2489" cy="36" r="82.80"/>
<circle cx="2489" cy="36" r="87.30"/>
<circle cx="2489" cy="36" r="91.90"/>
<circle cx="2489" cy="36" r="96.40"/>
<circle cx="2489" cy="36" r="101.00"/>
<circle cx="2489" cy="36" r="105.30"/>
<circle cx="2489" cy="36" r="109.60"/>
<circle cx="2489" cy="36" r="114.40"/>
<circle cx="2489" cy="36" r="119.80"/>
<circle cx="2489" cy="36" r="125.20"/>
<circle cx="2489" cy="36" r="130.60"/>
<circle cx="2489" cy="36" r="136.00"/>
<circle cx="2489" cy="36" r="140.60"/>
<circle cx="2489" cy="36" r="145.60"/>
<circle cx="2489" cy="36" r="150.60"/>
<circle cx="2489" cy="36" r="155.60"/>
<circle cx="2489" cy="36" r="160.60"/>
<circle cx="2489" cy="36" r="165.60"/>
<circle cx="2489" cy="36" r="170.60"/>
<circle cx="2489" cy="36" r="175.60"/>
</g>
<path fill="#fff" fill-rule="evenodd" d="M2425.3,109.9 a39,44.7 0 1,0 78,0 a39,44.7 0 1,0 -78,0 Z M2442.2,109.6 a29.8,29.8 0 1,0 59.6,0 a29.8,29.8 0 1,0 -59.6,0 Z"/>
<path fill="#fff" d="M2456.5,99.1 H2510 V113.4 H2456.5 A7.15,7.15 0 0,1 2456.5,99.1 Z"/>
<clipPath id="esasm"><circle cx="2472" cy="109.6" r="30.4"/></clipPath>
<path clip-path="url(#esasm)" fill="#fff" d="M2461,78 C2469,82 2476.5,88.5 2480,99.5 L2510,99.5 L2510,70 Z"/>
<path fill="#fff" d="M2488,149 L2488,165 L2515,165 L2515,113 L2503.4,113 L2497,131 Z"/>
<circle cx="2386.4" cy="106.5" r="8.6" fill="#fff"/>
</g>
</svg>
</body>
</html>
